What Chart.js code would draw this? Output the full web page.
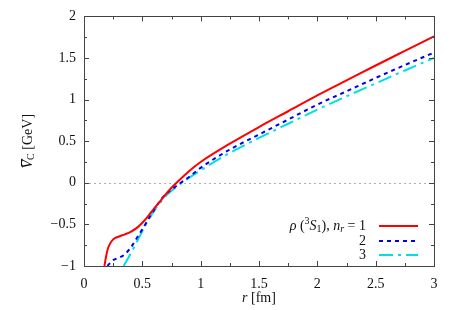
<!DOCTYPE html>
<html>
<head>
<meta charset="utf-8">
<script src="https://cdn.jsdelivr.net/npm/chart.js@4.4.1/dist/chart.umd.min.js"></script>
<style>
  html,body{margin:0;padding:0;background:#fff;}
  canvas{display:block;}
</style>
</head>
<body>
<canvas id="myChart" width="463" height="310"></canvas>
<script>
// n_r = 1
const r1=[0.175,0.19,0.205,0.22,0.25,0.3,0.35,0.4,0.45,0.5,0.55,0.6,0.65,0.7,0.75,0.8,0.9,1.0,1.25,1.5,1.75,2.0,2.25,2.5,2.75,3.0]
const v1=[-1.0,-0.88,-0.79,-0.74,-0.68,-0.645,-0.62,-0.59,-0.545,-0.48,-0.4,-0.31,-0.225,-0.14,-0.06,0.01,0.14,0.25,0.47,0.67,0.86,1.05,1.23,1.41,1.585,1.76]
// n_r = 2
const r2=[0.2,0.25,0.3,0.35,0.4,0.45,0.5,0.55,0.6,0.65,0.7,0.8,0.9,1.0,1.25,1.5,1.75,2.0,2.25,2.5,2.75,3.0]
const v2=[-1.0,-0.93,-0.9,-0.86,-0.78,-0.67,-0.56,-0.44,-0.33,-0.22,-0.14,-0.03,0.07,0.18,0.4,0.58,0.76,0.94,1.1,1.26,1.415,1.565]
// n_r = 3
const r3=[0.34,0.38,0.42,0.46,0.5,0.55,0.6,0.65,0.7,0.8,0.9,1.0,1.25,1.5,1.75,2.0,2.25,2.5,2.75,3.0]
const v3=[-1.0,-0.9,-0.8,-0.69,-0.58,-0.45,-0.34,-0.245,-0.16,-0.04,0.06,0.15,0.36,0.54,0.71,0.88,1.04,1.195,1.35,1.5]

const xTicks=[0,0.5,1,1.5,2,2.5,3]
const yTicks=[-1,-0.5,0,0.5,1,1.5,2]
const legendLabels=["1","2","3"]

const FONT="Liberation Serif"

function pts(xs,ys){
  return xs.map((x,i)=>({x:x,y:ys[i]}))
}
function fmt(v){
  return v<0 ? "\u2212"+Math.abs(v) : String(v)
}
function setFont(ctx,style,size){
  ctx.font=style+" "+size+"px \""+FONT+"\""
}

// text runs: [text, style, size, dy]
function runsWidth(ctx,runs){
  let w=0
  runs.forEach(r=>{
    setFont(ctx,r[1],r[2])
    w+=ctx.measureText(r[0]).width
  })
  return w
}
function drawRuns(ctx,runs,x,y){
  runs.forEach(r=>{
    setFont(ctx,r[1],r[2])
    ctx.fillText(r[0],x,y+(r[3]||0))
    x+=ctx.measureText(r[0]).width
  })
}

const framePlugin={
  id:"frame",
  beforeDatasetsDraw(chart){
    const ctx=chart.ctx
    const a=chart.chartArea
    const y0=chart.scales.y.getPixelForValue(0)
    ctx.save()
    ctx.strokeStyle="#b0b0b0"
    ctx.lineWidth=1
    ctx.setLineDash([2,3])
    ctx.beginPath()
    ctx.moveTo(a.left,Math.round(y0)+0.5)
    ctx.lineTo(a.right,Math.round(y0)+0.5)
    ctx.stroke()
    ctx.restore()
  },
  afterDraw(chart){
    const ctx=chart.ctx
    const a=chart.chartArea
    const xs=chart.scales.x, ys=chart.scales.y
    ctx.save()
    ctx.strokeStyle="#444"
    ctx.lineWidth=1
    ctx.strokeRect(Math.round(a.left)+0.5,Math.round(a.top)+0.5,Math.round(a.right-a.left),Math.round(a.bottom-a.top))
    // inward ticks every 0.25
    ctx.beginPath()
    for(let v=0;v<=3.0001;v+=0.25){
      const px=Math.round(xs.getPixelForValue(v))+0.5
      const len=(Math.abs(v*2-Math.round(v*2))<1e-6)?5:3
      ctx.moveTo(px,a.bottom);ctx.lineTo(px,a.bottom-len)
      ctx.moveTo(px,a.top);ctx.lineTo(px,a.top+len)
    }
    for(let v=-1;v<=2.0001;v+=0.25){
      const py=Math.round(ys.getPixelForValue(v))+0.5
      const len=(Math.abs(v*2-Math.round(v*2))<1e-6)?5:3
      ctx.moveTo(a.left,py);ctx.lineTo(a.left+len,py)
      ctx.moveTo(a.right,py);ctx.lineTo(a.right-len,py)
    }
    ctx.stroke()

    ctx.fillStyle="#111"
    ctx.textBaseline="middle"
    ctx.textAlign="left"
    // x title
    const xr=[["r","italic",14,0],[" [fm]","normal",14,0]]
    let w=runsWidth(ctx,xr)
    drawRuns(ctx,xr,(a.left+a.right)/2-w/2,298)
    // y title, rotated
    ctx.save()
    ctx.translate(28,(a.top+a.bottom)/2)
    ctx.rotate(-Math.PI/2)
    const yr=[["V","italic",14,0],["C","normal",10,3],[" [GeV]","normal",14,0]]
    w=runsWidth(ctx,yr)
    const sx=-w/2
    drawRuns(ctx,yr,sx,0)
    setFont(ctx,"italic",14)
    const vw=ctx.measureText("V").width
    ctx.strokeStyle="#111"
    ctx.beginPath()
    ctx.moveTo(sx+2,-6.5);ctx.lineTo(sx+vw+1,-6.5)
    ctx.stroke()
    ctx.restore()

    // legend
    const rows=[
      [["\u03C1","italic",14,0],[" (","normal",14,0],["3","normal",10,-5],["S","italic",14,0],["1","normal",10,3],["), ","normal",14,0],["n","italic",14,0],["r","italic",10,3],[" = "+legendLabels[0],"normal",14,0]],
      [[legendLabels[1],"normal",14,0]],
      [[legendLabels[2],"normal",14,0]]
    ]
    const rowY=[226,241,255]
    chart.data.datasets.forEach((ds,i)=>{
      const tw=runsWidth(ctx,rows[i])
      drawRuns(ctx,rows[i],366-tw,rowY[i])
      ctx.save()
      ctx.strokeStyle=ds.borderColor
      ctx.lineWidth=ds.borderWidth
      ctx.setLineDash(ds.borderDash||[])
      ctx.beginPath()
      ctx.moveTo(379,rowY[i]);ctx.lineTo(418,rowY[i])
      ctx.stroke()
      ctx.restore()
    })
    ctx.restore()
  }
}

function generateGraph(){
  const ctx=document.getElementById("myChart").getContext("2d")
  const chart=new Chart(ctx,{
    type:"line",
    data:{
      datasets:[
        {label:"1",data:pts(r1,v1),borderColor:"#ff0000",borderWidth:2,pointRadius:0,cubicInterpolationMode:"monotone"},
        {label:"2",data:pts(r2,v2),borderColor:"#0000ee",borderWidth:2,borderDash:[4,4],pointRadius:0,cubicInterpolationMode:"monotone"},
        {label:"3",data:pts(r3,v3),borderColor:"#00e0e0",borderWidth:2,borderDash:[14,5,3,5],pointRadius:0,cubicInterpolationMode:"monotone"}
      ]
    },
    options:{
      responsive:false,
      animation:false,
      layout:{padding:{top:15,right:29,left:0,bottom:0}},
      plugins:{legend:{display:false},tooltip:{enabled:false}},
      scales:{
        x:{
          type:"linear",min:0,max:3,
          grid:{display:false,drawTicks:false},
          border:{display:false},
          afterBuildTicks:s=>{s.ticks=xTicks.map(v=>({value:v}))},
          afterFit:s=>{s.height=44},
          ticks:{padding:10,color:"#111",font:{family:"\""+FONT+"\"",size:14},callback:v=>fmt(v),maxRotation:0}
        },
        y:{
          type:"linear",min:-1,max:2,
          grid:{display:false,drawTicks:false},
          border:{display:false},
          afterBuildTicks:s=>{s.ticks=yTicks.map(v=>({value:v}))},
          afterFit:s=>{s.width=84},
          ticks:{padding:8,color:"#111",font:{family:"\""+FONT+"\"",size:14},callback:v=>fmt(v)}
        }
      }
    },
    plugins:[framePlugin]
  })
}

Promise.all([
  document.fonts.load("14px \""+FONT+"\""),
  document.fonts.load("italic 14px \""+FONT+"\"")
]).then(generateGraph,generateGraph)
</script>
</body>
</html>
